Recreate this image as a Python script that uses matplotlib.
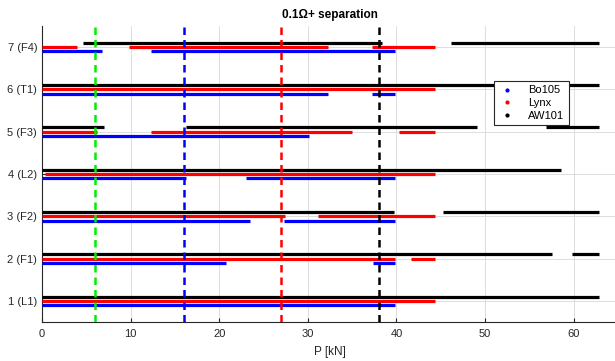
import matplotlib
matplotlib.use("Agg")
import matplotlib.pyplot as plt
from matplotlib.lines import Line2D

plt.rcParams['font.family'] = ['Liberation Sans', 'DejaVu Sans']

row_labels = ["1 (L1)", "2 (F1)", "3 (F2)", "4 (L2)", "5 (F3)", "6 (T1)", "7 (F4)"]
rows = [1, 2, 3, 4, 5, 6, 7]

# Intervals [start, end] in kN for each row (index 0 = row 1)
bo105 = [
    [(0, 39.8)],
    [(0, 20.8), (37.4, 39.8)],
    [(0, 23.5), (27.3, 39.8)],
    [(0, 16.3), (23.0, 39.8)],
    [(0, 30.1)],
    [(0, 32.3), (37.3, 39.8)],
    [(0, 6.8), (12.3, 39.8)],
]
lynx = [
    [(0, 44.4)],
    [(0, 39.8), (41.6, 44.4)],
    [(0, 27.4), (31.2, 44.4)],
    [(0.3, 44.4)],
    [(0, 6.2), (12.3, 35.0), (40.3, 44.4)],
    [(0, 44.4)],
    [(0, 4.0), (9.8, 32.3), (37.3, 44.4)],
]
aw101 = [
    [(0, 62.9)],
    [(0, 57.6), (59.8, 62.9)],
    [(0, 39.7), (45.3, 62.9)],
    [(0, 58.6)],
    [(0, 7.0), (16.2, 49.1), (56.9, 62.9)],
    [(0, 62.9)],
    [(4.6, 38.4), (46.2, 62.9)],
]
limits = [6, 16, 27, 38]
limit_colors = ["#00ee00", "#0000ff", "#ff0000", "#000000"]

series = [("Bo105", bo105, "#0000ff", -0.1),
          ("Lynx", lynx, "#ff0000", 0.0),
          ("AW101", aw101, "#000000", 0.1)]

fig = plt.figure(figsize=(6.15, 3.61), dpi=100)
ax = fig.add_axes([42/615, 39/361, 65*8.86/615, 296/361])

for name, data, color, off in series:
    for r, segs in zip(rows, data):
        for a, b in segs:
            ax.plot([a, b], [r + off, r + off], '-', color=color, lw=2.3,
                    solid_capstyle='butt', zorder=3)

for xv, c in zip(limits, limit_colors):
    ax.axvline(xv, color=c, ls=(0, (3, 2)), lw=1.8, zorder=4)

ax.set_xlim(0, 65)
ax.set_ylim(0.5, 7.5)
ax.set_xticks([0, 10, 20, 30, 40, 50, 60])
ax.set_yticks(rows)
ax.set_yticklabels(row_labels)
ax.tick_params(direction='in', labelsize=8, colors='#262626', length=3)
ax.tick_params(axis='x', pad=5)
ax.grid(True, color='#dddddd', lw=0.7)
ax.set_axisbelow(True)
for s in ['top', 'right']:
    ax.spines[s].set_visible(False)
for s in ['left', 'bottom']:
    ax.spines[s].set_color('#262626')
    ax.spines[s].set_linewidth(0.8)
ax.set_xlabel("P [kN]", fontsize=8.5, color='#262626', labelpad=5)
ax.set_title("0.1\u03a9+ separation", fontsize=8.5, fontweight='bold', pad=6)

handles = [Line2D([], [], ls='none', marker='.', markersize=4, color=c, label=n)
           for n, _, c, _ in series]
leg = fig.legend(handles=handles, loc='upper left', bbox_to_anchor=(494/615, 1 - 81/361),
                 bbox_transform=fig.transFigure, fontsize=8, frameon=True, fancybox=False,
                 edgecolor='#262626', framealpha=1, handlelength=1.5, handletextpad=1.2,
                 borderpad=0.4, labelspacing=0.25, borderaxespad=0)
leg.get_frame().set_linewidth(0.8)

fig.savefig("out.png", dpi=100)
